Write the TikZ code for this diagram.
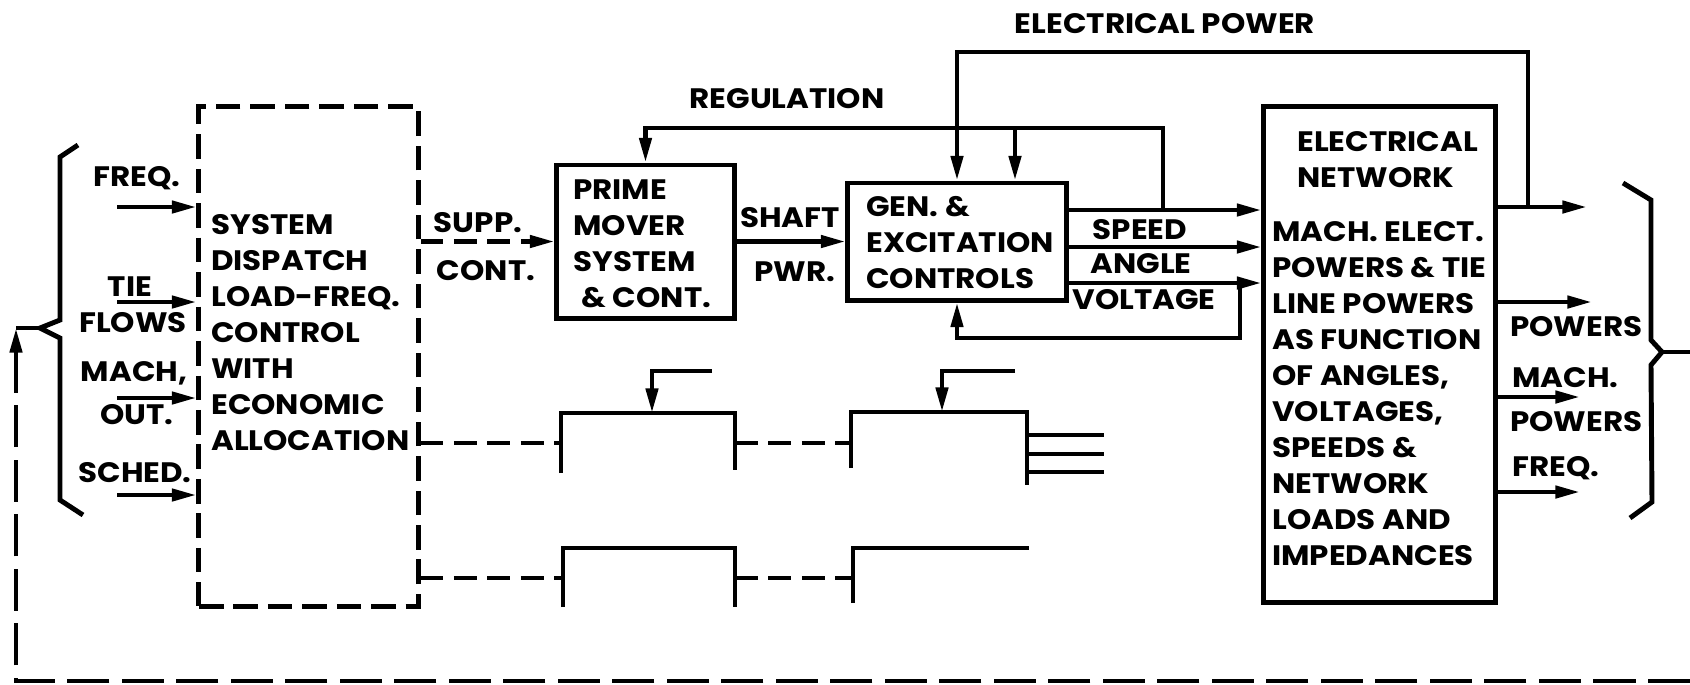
\documentclass[tikz,border=0pt]{standalone}
\usepackage{fontspec}
\setmainfont{Poppins}[FakeStretch=1.1]
\usetikzlibrary{arrows.meta,positioning}

\begin{document}
\begin{tikzpicture}[
  x=0.01cm, y=-0.01cm,
  font=\bfseries\fontsize{8.0}{10.24}\selectfont,
  >={Triangle[length=7pt,width=3.4pt]},
  line width=1.3pt,
  every node/.style={inner sep=0pt},
  arr/.style={->, line width=1.3pt},
  dasharr/.style={->, line width=1.3pt, dash pattern=on 6.5pt off 3pt},
  dashline/.style={line width=1.3pt, dash pattern=on 6.5pt off 3pt},
  fbline/.style={line width=1.3pt, dash pattern=on 12pt off 3.5pt},
  blockbox/.style={draw, line width=1.4pt, inner sep=0pt},
  txt/.style={align=left, anchor=west}
]
  \useasboundingbox (0,0) rectangle (1690,684);

  % Main blocks
  \node[blockbox, dash pattern=on 7pt off 2.8pt, minimum width=2.19cm, minimum height=4.99cm] (dispatch) at (308.5,356.5) {};
  \node[blockbox, minimum width=1.77cm, minimum height=1.53cm] (prime) at (645.5,241.5) {};
  \node[blockbox, minimum width=2.18cm, minimum height=1.17cm] (gen) at (957,241.5) {};
  \node[blockbox, minimum width=2.31cm, minimum height=4.95cm] (net) at (1379.5,354.5) {};

  % Block texts
  \node[txt] (dispatchtxt) at (209,333) {SYSTEM\\DISPATCH\\LOAD-FREQ.\\CONTROL\\WITH\\ECONOMIC\\ALLOCATION};
  \node[txt] (primetxt) at (571,244) {PRIME\\MOVER\\SYSTEM\\\hspace{0.3em}\&~CONT.};
  \node[txt] (gentxt) at (864,242.5) {GEN.~\&\\EXCITATION\\CONTROLS};
  \node[txt] (nettitle) at (1295,160) {ELECTRICAL\\NETWORK};
  \node[txt] (nettxt) at (1270,394) {MACH.~ELECT.\\POWERS \& TIE\\LINE POWERS\\AS FUNCTION\\OF ANGLES,\\VOLTAGES,\\SPEEDS \&\\NETWORK\\LOADS AND\\IMPEDANCES};

  % Labels
  \node (elpower) at (1165,24) {ELECTRICAL POWER};
  \node (regul) at (787,99) {REGULATION};
  \node (supp) at (478,223) {SUPP.};
  \node (cont) at (486,271) {CONT.};
  \node (shaft) at (790,218) {SHAFT};
  \node (pwr) at (795,272) {PWR.};
  \node (speed) at (1140,230) {SPEED};
  \node (angle) at (1141,264) {ANGLE};
  \node (voltage) at (1144,300) {VOLTAGE};

  % Inputs to dispatch
  \node (freq) at (137,178) {FREQ.};
  \node (tie) at (130,287) {TIE};
  \node (flows) at (133,323) {FLOWS};
  \node (mach) at (134,373) {MACH,};
  \node (out) at (137,415) {OUT.};
  \node (sched) at (135,473) {SCHED.};
  \foreach \y [count=\i] in {207,302,398,495} {
    \coordinate (in\i) at (117,\y);
    \draw[arr] (in\i) -- (in\i -| dispatch.west);
  }

  % Outputs of network
  \node[anchor=west] (powa) at (1508,327) {POWERS};
  \node[anchor=west] (macha) at (1510,378) {MACH.};
  \node[anchor=west] (powb) at (1508,422) {POWERS};
  \node[anchor=west] (freqb) at (1510,468) {FREQ.};
  \foreach \y/\x [count=\i] in {207/1587,302/1592,397/1580,492/1580} {
    \coordinate (nout\i) at (\x,\y);
    \draw[arr] (nout\i -| net.east) -- (nout\i);
  }

  % Forward path
  \draw[dasharr] (dispatch.east |- prime.west) -- (prime.west);
  \draw[arr] (prime.east) -- (gen.west);
  \foreach \y in {210,247,283}
    \draw[arr] (gen.east |- 0,\y) -- (net.west |- 0,\y);

  % Feedback loops
  \coordinate (eptop) at (1528,52);
  \draw[arr] (nout1 -| eptop) -- (eptop) -| (gen.north);
  \coordinate (regtop) at (1163,128);
  \draw[arr] (regtop |- 0,210) -- (regtop) -| (prime.north);
  \coordinate (regbr) at (1015,128);
  \draw[arr] (regbr) -- (regbr |- gen.north);
  \coordinate (vturn) at (1240,338);
  \draw[arr] (vturn |- 0,283) -- (vturn) -| (gen.south);

  % Second unit
  \draw[dashline] (dispatch.east |- 0,443) -- (561,443);
  \draw (561,473) -- (561,413) -- (735,413) -- (735,470);
  \draw[dashline] (735,443) -- (851,443);
  \draw (851,468) -- (851,412) -- (1027,412) -- (1027,485);
  \draw[arr] (712,371) -- (652,371) -- (652,413);
  \draw[arr] (1015,371) -- (942,371) -- (942,412);
  \foreach \y in {435,454,472}
    \draw (1027,\y) -- (1104,\y);

  % Third unit
  \draw[dashline] (dispatch.east |- 0,578) -- (563,578);
  \draw (563,607) -- (563,548) -- (735,548) -- (735,607);
  \draw[dashline] (735,578) -- (853,578);
  \draw (853,603) -- (853,548) -- (1029,548);

  % Braces
  \coordinate (lbrace) at (40,328);
  \draw[line width=1.4pt] (78,145) -- (60,157) -- (60,320) -- (lbrace) -- (60,338) -- (60,500) -- (83,515);
  \coordinate (rbrace) at (1662,352);
  \draw[line width=1.4pt] (1623,183) -- (1651,200) -- (1651,340) -- (rbrace) -- (1651,365) -- (1652,502) -- (1630,518);
  \coordinate (rend) at (1690,352);
  \draw (rbrace) -- (rend);

  % System feedback
  \coordinate (fbcorner) at (16,328);
  \coordinate (fbstart) at (1690,681);
  \draw[fbline, ->] (fbstart) -| (fbcorner);
  \draw (fbcorner) -- (lbrace);
\end{tikzpicture}
\end{document}
